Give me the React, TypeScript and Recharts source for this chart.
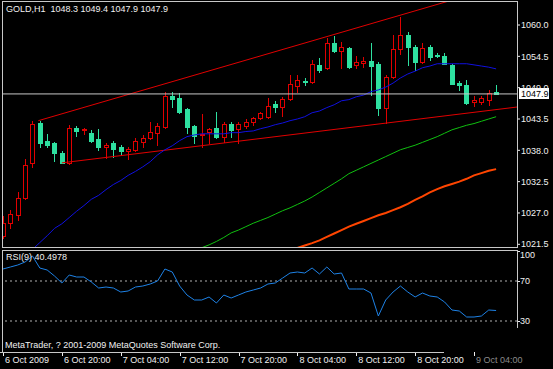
import React from 'react';
import { ComposedChart, LineChart, Line, Bar, XAxis, YAxis, ReferenceLine } from 'recharts';

// hourly GOLD bars, 6 Oct 12:00 .. 9 Oct 07:00
const opens = [
  1023.0, 1025.3, 1026.7, 1029.7, 1035.7, 1042.8, 1039.7, 1039.2, 1037.6, 1035.8,
  1042.0, 1041.5, 1041.1, 1039.9, 1038.5, 1039.2, 1038.6, 1037.9, 1038.1, 1039.5,
  1040.2, 1041.1, 1042.1, 1047.6, 1047.2, 1045.3, 1042.3, 1040.7, 1041.3, 1042.0,
  1040.4, 1042.7, 1041.8, 1042.3, 1043.0, 1043.7, 1043.9, 1046.2, 1045.6, 1047.0,
  1049.3, 1050.2, 1050.0, 1053.0, 1052.5, 1056.8, 1055.4, 1056.0, 1053.0, 1053.4,
  1053.7, 1053.2, 1045.5, 1050.9, 1055.8, 1058.2, 1056.1, 1053.5, 1056.1, 1054.8,
  1054.6, 1053.0, 1049.8, 1049.5, 1046.5, 1046.5, 1046.9, 1048.3,
];
const highs = [
  1026.4, 1027.6, 1030.6, 1036.5, 1043.2, 1043.2, 1040.9, 1039.5, 1037.9, 1042.5,
  1042.3, 1042.0, 1041.6, 1041.8, 1039.2, 1039.7, 1039.0, 1038.6, 1040.2, 1040.7,
  1043.0, 1042.8, 1048.3, 1048.3, 1048.1, 1045.5, 1042.5, 1044.4, 1042.0, 1044.8,
  1043.0, 1043.0, 1043.0, 1043.5, 1043.9, 1044.8, 1047.2, 1046.7, 1047.4, 1051.2,
  1051.2, 1050.7, 1053.9, 1054.2, 1057.7, 1058.1, 1057.0, 1056.1, 1054.6, 1054.4,
  1056.8, 1053.5, 1051.2, 1058.2, 1061.4, 1058.8, 1056.5, 1056.8, 1056.5, 1055.1,
  1055.1, 1053.2, 1050.2, 1050.4, 1047.6, 1047.6, 1048.6, 1049.4,
];
const lows = [
  1022.6, 1024.3, 1025.8, 1029.5, 1035.1, 1038.5, 1038.5, 1036.2, 1035.7, 1035.6,
  1040.6, 1040.8, 1039.5, 1038.1, 1036.7, 1036.9, 1037.2, 1036.5, 1037.8, 1038.6,
  1039.9, 1039.0, 1042.0, 1045.6, 1044.6, 1041.1, 1039.3, 1038.6, 1039.2, 1040.2,
  1039.5, 1040.4, 1039.3, 1042.0, 1042.5, 1043.5, 1043.7, 1044.8, 1044.1, 1046.9,
  1048.3, 1049.5, 1049.8, 1051.8, 1052.3, 1055.3, 1052.5, 1052.5, 1052.5, 1052.6,
  1047.7, 1044.2, 1042.8, 1050.7, 1054.9, 1053.0, 1052.1, 1053.3, 1053.9, 1054.3,
  1053.1, 1049.6, 1048.6, 1046.2, 1045.8, 1046.2, 1046.0, 1047.9,
];
const closes = [
  1025.3, 1026.9, 1029.7, 1035.5, 1042.7, 1039.2, 1039.0, 1037.6, 1035.8, 1042.0,
  1041.4, 1041.8, 1039.7, 1038.5, 1039.0, 1038.3, 1037.8, 1038.3, 1039.7, 1040.2,
  1041.3, 1042.3, 1047.6, 1047.0, 1044.8, 1042.1, 1040.6, 1040.9, 1041.8, 1040.4,
  1042.7, 1041.6, 1042.7, 1043.0, 1043.7, 1044.6, 1045.8, 1045.6, 1047.0, 1049.7,
  1050.4, 1050.0, 1053.2, 1052.1, 1056.8, 1055.4, 1056.1, 1052.6, 1053.5, 1053.6,
  1052.8, 1045.5, 1050.9, 1055.8, 1058.2, 1056.1, 1053.5, 1056.0, 1054.4, 1054.6,
  1053.2, 1049.7, 1049.5, 1046.3, 1046.9, 1047.2, 1048.1, 1047.9,
];

const maBlue = [
  null, null, null, 1019.4, 1020.6, 1021.8, 1023.0, 1024.3, 1025.1, 1026.2,
  1027.3, 1028.3, 1029.4, 1030.1, 1031.1, 1032.0, 1032.7, 1033.6, 1034.3, 1035.1,
  1036.0, 1037.2, 1038.1, 1038.8, 1039.7, 1040.4, 1040.7, 1040.9, 1040.9, 1040.9,
  1040.9, 1041.1, 1041.1, 1041.3, 1041.4, 1041.8, 1042.1, 1042.5, 1042.8, 1043.2,
  1043.5, 1043.9, 1044.6, 1044.9, 1045.5, 1046.0, 1046.7, 1046.9, 1047.4, 1047.7,
  1048.3, 1048.6, 1049.1, 1049.8, 1050.7, 1051.4, 1051.9, 1052.5, 1052.8, 1053.2,
  1053.2, 1053.2, 1053.2, 1053.2, 1053.0, 1052.8, 1052.6, 1052.3,
];
const maGreen = [
  null, null, null, null, null, null, null, null, null, null,
  null, null, null, null, null, null, null, null, null, null,
  null, null, null, null, null, null, 1020.4, 1020.9, 1021.4, 1022.0,
  1022.7, 1023.5, 1024.0, 1024.6, 1025.2, 1025.7, 1026.2, 1026.8, 1027.4, 1027.9,
  1028.5, 1029.1, 1029.8, 1030.6, 1031.4, 1032.2, 1033.0, 1033.9, 1034.5, 1035.1,
  1035.7, 1036.3, 1036.9, 1037.5, 1038.1, 1038.5, 1038.9, 1039.4, 1039.9, 1040.4,
  1041.0, 1041.6, 1042.0, 1042.4, 1042.7, 1043.1, 1043.5, 1043.9,
];
const maOrange = [
  null, null, null, null, null, null, null, null, null, null,
  null, null, null, null, null, null, null, null, null, null,
  null, null, null, null, null, null, null, null, null, null,
  null, null, null, null, null, null, null, null, null, 1020.3,
  1020.85, 1021.3, 1021.7, 1022.2, 1022.8, 1023.4, 1024.0, 1024.6, 1025.1, 1025.6,
  1026.1, 1026.6, 1027.0, 1027.5, 1028.0, 1028.6, 1029.3, 1029.9, 1030.6, 1031.2,
  1031.7, 1032.1, 1032.5, 1033.0, 1033.6, 1034.0, 1034.4, 1034.7,
];
const rsi = [
  82, 84, 86, 89, 95, 83, 81, 75, 68, 76,
  74, 74, 69, 63, 64, 63, 59, 60, 64, 65,
  67, 70, 82, 79, 65, 56, 51, 51, 54, 48,
  56, 53, 56, 59, 61, 63, 67, 68, 73, 78,
  79, 78, 83, 77, 84, 77, 78, 62, 62, 62,
  58, 35, 51, 59, 65, 59, 54, 58, 55, 54,
  49, 41, 40, 34, 34, 35, 41, 40.4978,
];

const timeTicks = [0, 8, 16, 24, 32, 40, 48, 56, 64];
const timeLabels = ['6 Oct 2009', '6 Oct 20:00', '7 Oct 04:00', '7 Oct 12:00', '7 Oct 20:00', '8 Oct 04:00', '8 Oct 12:00', '8 Oct 20:00', '9 Oct 04:00'];
const priceTicks = [1021.5, 1027.0, 1032.5, 1038.0, 1043.5, 1049.0, 1054.5, 1060.0];
const rsiTicks = [30, 70, 100];
const lastBar = { open: 1048.3, high: 1049.4, low: 1047.9, close: 1047.9 };
const upperTrend = [{ x: 4.8, y: 1043.2 }, { x: 69.84, y: 1067.7 }];
const lowerTrend = [{ x: 8, y: 1035.8 }, { x: 69.84, y: 1045.6 }];

const data = opens.map((o, i) => ({
  i,
  open: o,
  high: highs[i],
  low: lows[i],
  close: closes[i],
  range: [lows[i], highs[i]],
  blue: maBlue[i],
  green: maGreen[i],
  orange: maOrange[i],
  rsi: rsi[i],
}));

const UP = '#e00000';
const DOWN = '#2ee0a0';
const TXT = '#f0f0f0';
const FONT = "'Liberation Sans', Arial, sans-serif";
const X_DOMAIN: [number, number] = [-0.136, 69.84];

const Candle = (props: any) => {
  const { x, y, width, height, payload } = props;
  if (x == null || !payload) return null;
  const { open, close, high, low } = payload;
  const top0 = Math.min(y, y + height);
  const h = Math.abs(height);
  const k = h / (high - low);
  const py = (v: number) => Math.round(top0 + (high - v) * k);
  const cx = Math.round(x + width / 2);
  const up = close >= open;
  const col = up ? UP : DOWN;
  const bTop = py(Math.max(open, close));
  const bBot = py(Math.min(open, close));
  const wick = <line x1={cx + 0.5} x2={cx + 0.5} y1={py(high)} y2={py(low) + 1} stroke={col} strokeWidth={1} />;
  if (bBot - bTop < 1) {
    return (
      <g>
        {wick}
        <line x1={cx - 2} x2={cx + 3} y1={bTop + 0.5} y2={bTop + 0.5} stroke={col} />
      </g>
    );
  }
  return (
    <g>
      {wick}
      {up ? (
        <rect x={cx - 1.5} y={bTop + 0.5} width={4} height={bBot - bTop} fill="#000" stroke={col} strokeWidth={1} />
      ) : (
        <rect x={cx - 2} y={bTop} width={5} height={bBot - bTop + 1} fill={col} />
      )}
    </g>
  );
};

const BidLabel = (props: any) => {
  const vb = props.viewBox;
  if (!vb) return null;
  const x = vb.x + vb.width + 2;
  return (
    <g>
      <rect x={x} y={Math.round(vb.y) - 6} width={30} height={11} fill="#ffffff" />
      <text x={x + 2} y={vb.y} dy="0.35em" fontSize={9} fontFamily={FONT} fill="#000">
        {lastBar.close.toFixed(1)}
      </text>
    </g>
  );
};

const TimeTick = (props: any) => {
  const { x, y, payload } = props;
  const idx = timeTicks.indexOf(payload.value);
  const label = timeLabels[idx] ?? '';
  const dim = payload.value >= 64;
  return (
    <g>
      <line x1={Math.round(x) + 0.5} x2={Math.round(x) + 0.5} y1={y + 1} y2={y + 5} stroke={TXT} />
      <text x={x + 2} y={y + 9} dy="0.35em" fontSize={9} fontFamily={FONT} fill={dim ? '#8a8a8a' : TXT}>
        {label}
      </text>
    </g>
  );
};

const RsiTick = (props: any) => {
  const { x, y, payload } = props;
  const ty = payload.value === 100 ? y + 4 : y;
  return (
    <g>
      <line x1={x} x2={x + 3} y1={Math.round(y) + 0.5} y2={Math.round(y) + 0.5} stroke={TXT} />
      <text x={x + 3} y={ty} dy="0.35em" fontSize={9} fontFamily={FONT} fill={TXT}>
        {payload.value}
      </text>
    </g>
  );
};

const line = (style: React.CSSProperties): React.CSSProperties => ({ position: 'absolute', background: '#c8c8c8', ...style });

export default function App() {
  return (
    <div style={{ position: 'absolute', left: 0, top: 0, width: 553, height: 369, background: '#000', overflow: 'hidden', fontFamily: FONT }}>
      <div style={{ position: 'absolute', left: 0, top: 0 }}>
        <ComposedChart width={553} height={250} data={data} margin={{ top: 2, right: 0, bottom: 2, left: 2 }} style={{ fontFamily: FONT }}>
          <XAxis dataKey="i" type="number" domain={X_DOMAIN} allowDataOverflow hide />
          <YAxis
            orientation="right"
            type="number"
            domain={[1020.85, 1064.04]}
            allowDataOverflow
            ticks={priceTicks}
            interval={0}
            width={36}
            axisLine={false}
            tickSize={3}
            tickMargin={1}
            tickLine={{ stroke: TXT }}
            tick={{ fill: TXT, fontSize: 9 }}
            tickFormatter={(v: number) => v.toFixed(1)}
          />
          <ReferenceLine segment={upperTrend} stroke={UP} ifOverflow="hidden" />
          <ReferenceLine segment={lowerTrend} stroke={UP} ifOverflow="hidden" />
          <Line dataKey="orange" stroke="#ff4500" strokeWidth={2} dot={false} isAnimationActive={false} />
          <Line dataKey="green" stroke="#10c010" strokeWidth={1} dot={false} isAnimationActive={false} />
          <Line dataKey="blue" stroke="#1010e0" strokeWidth={1} dot={false} isAnimationActive={false} />
          <Bar dataKey="range" barSize={5} shape={<Candle />} isAnimationActive={false} />
          <ReferenceLine y={lastBar.close} stroke="#c8c8c8" label={<BidLabel />} />
        </ComposedChart>
      </div>
      <div style={{ position: 'absolute', left: 0, top: 249 }}>
        <LineChart width={553} height={120} data={data} margin={{ top: 2, right: 0, bottom: 0, left: 2 }} style={{ fontFamily: FONT }}>
          <XAxis
            dataKey="i"
            type="number"
            domain={X_DOMAIN}
            allowDataOverflow
            ticks={timeTicks}
            interval={0}
            height={18}
            axisLine={false}
            tickLine={false}
            tickSize={0}
            tickMargin={0}
            tick={<TimeTick />}
          />
          <YAxis
            orientation="right"
            type="number"
            domain={[0, 100]}
            ticks={rsiTicks}
            interval={0}
            width={36}
            axisLine={false}
            tickLine={false}
            tickSize={0}
            tickMargin={0}
            tick={<RsiTick />}
          />
          <ReferenceLine y={70} stroke="#b0b0b0" strokeDasharray="2 3" />
          <ReferenceLine y={30} stroke="#b0b0b0" strokeDasharray="2 3" />
          <Line dataKey="rsi" stroke="#1e82e6" strokeWidth={1} dot={false} isAnimationActive={false} />
        </LineChart>
      </div>

      {/* pane frames */}
      <div style={{ position: 'absolute', left: 2, top: 1, width: 516, height: 247, border: '1px solid #c8c8c8', boxSizing: 'border-box' }} />
      <div style={line({ left: 2, top: 250, width: 516, height: 1 })} />
      <div style={line({ left: 2, top: 250, width: 1, height: 103 })} />
      <div style={line({ left: 517, top: 250, width: 1, height: 78 })} />
      <div style={line({ left: 0, top: 352, width: 444, height: 1 })} />

      <div style={{ position: 'absolute', left: 6, top: 4, fontSize: 9, lineHeight: '11px', color: TXT, whiteSpace: 'pre' }}>
        {`GOLD,H1  ${lastBar.open.toFixed(1)} ${lastBar.high.toFixed(1)} ${lastBar.low.toFixed(1)} ${lastBar.close.toFixed(1)}`}
      </div>
      <div style={{ position: 'absolute', left: 6, top: 252, fontSize: 9, lineHeight: '11px', color: TXT, whiteSpace: 'pre' }}>
        {`RSI(9) ${rsi[rsi.length - 1].toFixed(4)}`}
      </div>
      <div style={{ position: 'absolute', left: 5, top: 340, fontSize: 9, lineHeight: '11px', color: TXT, whiteSpace: 'pre' }}>
        MetaTrader, ? 2001-2009 MetaQuotes Software Corp.
      </div>
    </div>
  );
}
